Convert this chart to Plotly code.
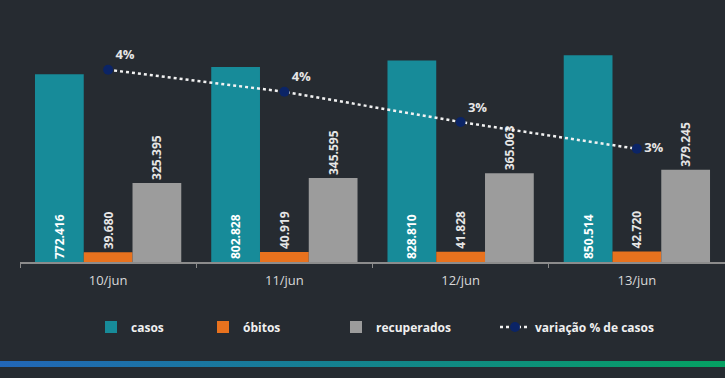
import base64
import plotly.graph_objects as go

# ---- data ----
dates = ["10/jun", "11/jun", "12/jun", "13/jun"]
casos = [772416, 802828, 828810, 850514]
obitos = [39680, 40919, 41828, 42720]
recuperados = [325395, 345595, 365063, 379245]
variacao = [4.45, 3.94, 3.24, 2.62]   # % daily variation of cases
variacao_labels = [f"{round(v)}%" for v in variacao]

BG = "#262b31"
W, H = 725, 378
ML, MR, MT, MB = 20, 0, 19, 116
PW, PH = W - ML - MR, H - MT - MB

fig = go.Figure()

bar_font = dict(family="Open Sans", size=12, color="#e6e6e6", weight="bold")

fig.add_trace(go.Bar(
    x=dates, y=casos, name="casos", legend="legend",
    marker=dict(color="#178b99", line=dict(width=0)),
    texttemplate="%{y:,.0f}", textposition="inside", insidetextanchor="start",
    textangle=-90, textfont=dict(family="Open Sans", size=12, color="#ffffff", weight="bold"),
))
fig.add_trace(go.Bar(
    x=dates, y=obitos, name="óbitos", legend="legend2",
    marker=dict(color="#e8721e", line=dict(width=0)),
    texttemplate="%{y:,.0f}", textposition="outside",
    textangle=-90, textfont=bar_font,
))
fig.add_trace(go.Bar(
    x=dates, y=recuperados, name="recuperados", legend="legend3",
    marker=dict(color="#9c9c9c", line=dict(width=0)),
    texttemplate="%{y:,.0f}", textposition="outside",
    textangle=-90, textfont=bar_font,
))
fig.add_trace(go.Scatter(
    x=dates, y=variacao, name="variação % de casos", yaxis="y2", legend="legend4",
    mode="lines+markers+text",
    line=dict(color="#f2f2f2", width=2.5, dash="dot"),
    marker=dict(color="#0b2466", size=10),
    text=variacao_labels,
    textposition=["top right", "top right", "top right", "middle right"],
    textfont=dict(family="Open Sans", size=13, color="#e6e6e6", weight="bold"),
    cliponaxis=False,
))

# bottom gradient strip (decoration)
svg = ('<svg xmlns="http://www.w3.org/2000/svg" width="725" height="6" preserveAspectRatio="none">'
       '<defs><linearGradient id="g" x1="0" x2="1" y1="0" y2="0">'
       '<stop offset="0" stop-color="#2266b8"/><stop offset="1" stop-color="#05a162"/>'
       '</linearGradient></defs><rect width="725" height="6" fill="url(#g)"/></svg>')
src = "data:image/svg+xml;base64," + base64.b64encode(svg.encode()).decode()


def px_x(p):
    return (p - ML) / PW


legend_common = dict(
    orientation="h", xanchor="left", y=(262 - 327) / PH, yanchor="middle",
    font=dict(size=12, color="#f0f0f0", weight="bold"), bgcolor="rgba(0,0,0,0)",
)

fig.update_layout(
    width=W, height=H,
    margin=dict(l=ML, r=MR, t=MT, b=MB),
    paper_bgcolor=BG, plot_bgcolor=BG,
    separators=",.",
    barmode="group", bargap=0.17, bargroupgap=0,
    font=dict(family="Open Sans", color="#d9d9d9"),
    xaxis=dict(
        type="category", tickson="boundaries", ticks="outside", ticklen=4,
        tickcolor="#8c8c8c", showline=True, linecolor="#8c8c8c", linewidth=1.5,
        showgrid=False, tickfont=dict(size=13, color="#d9d9d9"), ticklabelstandoff=6,
    ),
    yaxis=dict(range=[0, 1000000], visible=False, showgrid=False),
    yaxis2=dict(range=[0, 5.625], overlaying="y", visible=False, showgrid=False),
    showlegend=True,
    legend=dict(x=px_x(91), **legend_common),
    legend2=dict(x=px_x(203), **legend_common),
    legend3=dict(x=px_x(336), **legend_common),
    legend4=dict(x=px_x(495), **legend_common),
    images=[dict(
        source=src, xref="paper", yref="paper",
        x=-ML / PW, y=(262 - 361) / PH, sizex=W / PW, sizey=6 / PH,
        xanchor="left", yanchor="top", sizing="stretch", layer="below",
    )],
)

fig.write_html(
    "out.html",
    config={"displayModeBar": False},
    post_script="document.body.style.margin='0';document.body.style.background='%s';" % BG,
)
